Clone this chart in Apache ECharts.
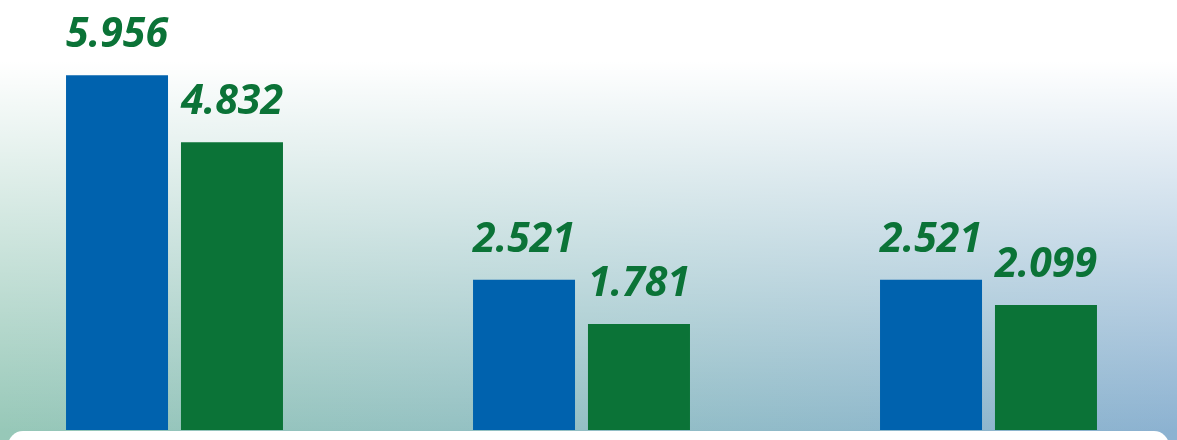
<!DOCTYPE html>
<html>
<head>
<meta charset="utf-8">
<script src="https://cdn.jsdelivr.net/npm/echarts@6/dist/echarts.min.js"></script>
<style>
html,body{margin:0;padding:0;background:#fff;}
#c{width:1177px;height:440px;}
</style>
</head>
<body>
<div id="c"></div>
<script>
const categories = ['A', 'B', 'C'];
const seriesBlue = [5.956, 2.521, 2.521];
const seriesGreen = [4.832, 1.781, 2.099];

const W = 1177, H = 440;
const chart = echarts.init(document.getElementById('c'), null, {renderer: 'canvas'});
const labelStyle = {
  show: true,
  position: 'top',
  distance: 19,
  color: '#0B7337',
  fontFamily: 'Open Sans',
  fontWeight: 'bold',
  fontStyle: 'italic',
  fontSize: 41,
  lineHeight: 41,
  formatter: p => p.value.toFixed(3)
};
chart.setOption({
  animation: false,
  backgroundColor: 'transparent',
  graphic: [
    {type: 'rect', z: -10, silent: true, shape: {x: 0, y: 0, width: W, height: H},
     style: {fill: new echarts.graphic.LinearGradient(0, 0, 1, 0, [
       {offset: 0, color: '#97C8B8'},
       {offset: 0.5, color: '#93BFC5'},
       {offset: 1, color: '#8CB2D1'}
     ])}},
    {type: 'rect', z: -9, silent: true, shape: {x: 0, y: 0, width: W, height: H},
     style: {fill: new echarts.graphic.LinearGradient(0, 0, 0, 1, [
       {offset: 0, color: 'rgba(255,255,255,1)'},
       {offset: 0.14, color: 'rgba(255,255,255,1)'},
       {offset: 0.98, color: 'rgba(255,255,255,0)'},
       {offset: 1, color: 'rgba(255,255,255,0)'}
     ])}},
    {type: 'rect', z: 100, silent: true, shape: {x: 8, y: 431, width: 1161, height: 40, r: 15},
     style: {fill: '#ffffff'}}
  ],
  grid: {left: -29, width: 1221, top: 0, bottom: 10, containLabel: false, outerBoundsMode: 'none'},
  xAxis: {
    type: 'category', data: categories,
    axisLine: {show: false}, axisTick: {show: false}, axisLabel: {show: false}, splitLine: {show: false}
  },
  yAxis: {
    type: 'value', min: 0, max: 7.22,
    axisLine: {show: false}, axisTick: {show: false}, axisLabel: {show: false}, splitLine: {show: false}
  },
  series: [
    {name: 'Series 1', type: 'bar', data: seriesBlue, barWidth: 102, barGap: '12.7%',
     itemStyle: {color: '#0062AE'}, label: labelStyle},
    {name: 'Series 2', type: 'bar', data: seriesGreen, barWidth: 102, barGap: '12.7%',
     itemStyle: {color: '#0B7337'}, label: labelStyle}
  ]
});
</script>
</body>
</html>
